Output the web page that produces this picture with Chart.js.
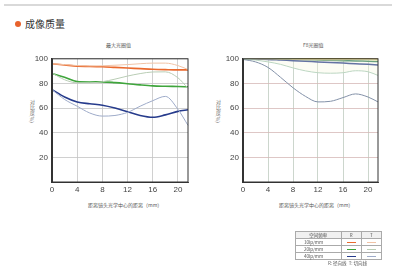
<!DOCTYPE html>
<html><head><meta charset="utf-8">
<script src="https://cdn.jsdelivr.net/npm/chart.js@4/dist/chart.umd.min.js"></script>
<style>
html,body{margin:0;padding:0;background:#fff;}
#wrap{position:relative;width:400px;height:270px;overflow:hidden;font-family:"Noto Sans CJK SC","Noto Sans",sans-serif;color:#444;}
.abs{position:absolute;white-space:nowrap;}
canvas{position:absolute;}
table{border-collapse:collapse;font-size:4.5px;color:#555;}
td{border:0.6px solid #aaa;padding:0;height:6px;line-height:6px;text-align:center;}
</style></head>
<body><div id="wrap">
<div class="abs" style="left:4px;top:4px;width:388px;height:2px;background:#d9d9d9"></div>
<div class="abs" style="left:15px;top:21px;width:6px;height:6px;border-radius:3px;background:#e8622c"></div>
<div class="abs" style="left:25px;top:17px;font-size:10px;line-height:14px;color:#333">成像质量</div>
<div class="abs" id="t1" style="left:106px;top:41px;font-size:5px;line-height:7px;color:#555">最大光圈值</div>
<div class="abs" id="t2" style="left:303px;top:41px;font-size:5px;line-height:7px;color:#555">F8光圈值</div>
<div class="abs" style="left:29px;top:100px;font-size:5px;line-height:6px;writing-mode:vertical-rl;color:#666">对比度(%)</div>
<div class="abs" style="left:215px;top:100px;font-size:5px;line-height:6px;writing-mode:vertical-rl;color:#666">对比度(%)</div>
<div class="abs" style="left:88px;top:201px;font-size:5px;line-height:7px;color:#555">距离镜头光学中心的距离（mm）</div>
<div class="abs" style="left:279px;top:201px;font-size:5px;line-height:7px;color:#555">距离镜头光学中心的距离（mm）</div>
<canvas id="c1" width="200" height="150" style="left:0;top:50px"></canvas>
<canvas id="c2" width="200" height="150" style="left:190px;top:50px"></canvas>
<div class="abs" style="left:295px;top:231px">
<table id="leg" style="width:87px">
<tr style="background:#f0f0f0"><td style="width:46px">空间频率</td><td style="width:20px">R</td><td style="width:20px">T</td></tr>
</table></div>
<div class="abs" style="left:328px;top:260px;font-size:4.5px;line-height:6px;color:#555">R: 径向线 &nbsp;T: 切向线</div>
</div>
<script>
const xs = [0,2,4,6,8,10,12,14,16,18,20,21.6];
const xTicks = [0,4,8,12,16,20];
const yTicks = [0,20,40,60,80,100];
const freqs = ["10lp/mm","20lp/mm","40lp/mm"];
// Max aperture (left)
const r10L = [96,95,94,93.8,93.5,93,92.5,92,91.5,91.2,91,91];
const t10L = [96,95.3,94.5,94.2,94.3,94.8,95.3,96,96.5,96.5,94.5,91.3];
const r20L = [88,85,81.5,81.2,81.3,80.7,79.8,78.8,78,77.7,77.5,77.3];
const t20L = [88.5,83,80.5,80.5,81.4,83.5,86,88,89.3,89.4,84.6,76];
const r40L = [75,69,65,63.5,62.3,60,57,54,52.5,54.5,57.3,58.6];
const t40L = [75,67,61.5,56,53.5,54,56.5,61.5,66,69.5,59,46];
// F8 (right)
const r10R = [100,100,100,100,100,100,100,100,100,100,99.8,99.7];
const t10R = [100,100,99.9,99.8,99.6,99.4,99.3,99.3,99.4,99.5,99.3,99];
const r20R = [100,99.9,99.8,99.7,99.5,99.3,99,98.8,98.5,98.3,98,97.8];
const t20R = [100,99,97.5,95.5,92.6,90.2,88.7,88.3,88.7,90.3,89.5,86.5];
const r40R = [100,99.8,99.5,99,98.5,98,97.5,97,96.5,96,95.5,95];
const t40R = [99.5,97.5,93,85,76.5,69.5,65,65.5,68.5,71.5,69,65];

const colR = ["#ea6a2e","#3fa53c","#263b8c"];
const colT = ["#f1c3a6","#b9cdb5","#9eabc9"];
const colR2 = ["#ea6a2e","#2f7d5a","#263b8c"];
const colT2 = ["#efe39a","#bcd6c2","#8391a8"];

const leg = document.getElementById('leg');
freqs.forEach((f,i)=>{
  const tr=document.createElement('tr');
  tr.innerHTML='<td style="text-align:left;padding-left:8px">'+f+'</td><td><span style="display:inline-block;width:9px;height:0;border-top:0.8px solid '+colR[i]+';vertical-align:middle"></span></td><td><span style="display:inline-block;width:9px;height:0;border-top:0.8px solid '+colT[i]+';vertical-align:middle"></span></td>';
  leg.appendChild(tr);
});

const pts = a => a.map((v,i)=>({x:xs[i],y:v}));
function ds(arr,color,w,extra){
  return Object.assign({data:pts(arr),borderColor:color,borderWidth:w,pointRadius:0,cubicInterpolationMode:'monotone',fill:false,clip:3},extra||{});
}
const boxPlugin = {id:'box',afterDatasetsDraw(ch){
  const a=ch.chartArea,c=ch.ctx;c.save();c.strokeStyle='#333';c.lineWidth=1;
  c.strokeRect(a.left+0.5,a.top,a.right-a.left-0.5,a.bottom-a.top);
  c.lineWidth=1.6;c.beginPath();c.moveTo(a.left,a.top);c.lineTo(a.left,a.bottom);c.stroke();c.restore();}};

function make(id,datasets,yw,hGrid,vGrid){
  new Chart(document.getElementById(id),{type:'line',data:{datasets},
    options:{responsive:false,animation:false,events:[],
      layout:{padding:{top:7.7,right:12,left:0,bottom:0}},
      plugins:{legend:{display:false},tooltip:{enabled:false}},
      scales:{
        x:{type:'linear',min:0,max:21.6,
          afterBuildTicks:s=>{s.ticks=xTicks.map(v=>({value:v}));},
          afterFit:s=>{s.height=18;},
          grid:{color:vGrid,drawTicks:false,lineWidth:0.8},
          border:{display:true,color:'#333',width:1},
          ticks:{padding:3,color:'#444',font:{size:8,family:'Liberation Sans'},maxRotation:0}},
        y:{min:0,max:100,
          afterBuildTicks:s=>{s.ticks=yTicks.map(v=>({value:v}));},
          afterFit:s=>{s.width=yw;},
          grid:{color:hGrid,drawTicks:false,lineWidth:0.8},
          border:{display:true,color:'#333',width:1.5},
          ticks:{padding:4,color:'#444',font:{size:8,family:'Liberation Sans'},callback:v=>v===0?'':v}}
      }},plugins:[boxPlugin]});
}
make('c1',[
  ds(t10L,colT[0],1),ds(t20L,colT[1],1),ds(t40L,colT[2],1),
  ds(r10L,colR[0],1.6),ds(r20L,colR[1],1.6),ds(r40L,colR[2],1.6)
],52,'#c4c4c4','#c4c4c4');
make('c2',[
  ds(t20R,colT2[1],1,{fill:{value:100},backgroundColor:'rgba(246,246,220,0.3)'}),
  ds(t40R,colT2[2],1),
  ds(t10R,colT2[0],1.2),
  ds(r40R,colR2[2],1.5),ds(r20R,colR2[1],1.5),ds(r10R,'#b8a23a',1.4)
],53,'#d6b9b7','#bfcbc0');
</script>
</body></html>
